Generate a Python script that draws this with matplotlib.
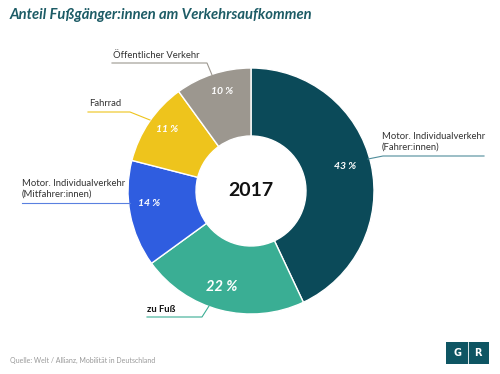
import matplotlib
matplotlib.use("Agg")
import matplotlib.pyplot as plt
from matplotlib.patches import Rectangle

# ---------------------------------------------------------------------------
# Data
# ---------------------------------------------------------------------------
categories = ["Motor. Individualverkehr\n(Fahrer:innen)", "zu Fuß",
              "Motor. Individualverkehr\n(Mitfahrer:innen)", "Fahrrad",
              "Öffentlicher Verkehr"]
shares = [43, 22, 14, 11, 10]
pct_labels = ["43 %", "22 %", "14 %", "11 %", "10 %"]
colors = ["#0b4a59", "#3aae94", "#2f5de0", "#eec41c", "#9c978f"]
line_colors = ["#4f8d9b", "#3aae94", "#5a80e0", "#eec41c", "#9c978f"]
year = "2017"

W, H = 500, 374


def Y(y):
    # pixel-from-top -> data y
    return H - y


fig = plt.figure(figsize=(5.0, 3.74), dpi=100)
ax = fig.add_axes([0, 0, 1, 1])

cx, cy, R, r_in = 251, 191, 123, 55
wedges, _ = ax.pie(shares, colors=colors, startangle=90, counterclock=False,
                   center=(cx, Y(cy)), radius=R, frame=True,
                   wedgeprops=dict(width=R - r_in, edgecolor="white", linewidth=1.0))

ax.set_xlim(0, W)
ax.set_ylim(0, H)
ax.set_aspect("equal")
ax.set_axis_off()

# ── Percent labels ──
pct_pos = [(345, 166), (222, 287), (149, 203), (167, 129), (222, 91)]
pct_size = [7.5, 10.5, 7.5, 7.5, 7.5]
for (px, py), lab, fs in zip(pct_pos, pct_labels, pct_size):
    ax.text(px, Y(py), lab, color="white", fontsize=fs, fontweight="bold",
            fontstyle="italic", family="Lato", ha="center", va="center")

ax.text(cx, Y(190), year, fontsize=14, fontweight="bold", family="Lato",
        ha="center", va="center", color="#111111")

# ── Leader lines & category labels ──
lab_kw = dict(fontsize=6.8, family="Lato", color="#333333")
# Fahrer:innen
ax.plot([368, 383, 484], [Y(159), Y(156), Y(156)], color=line_colors[0], lw=0.8)
ax.text(382, Y(152), categories[0], ha="left", va="bottom", linespacing=1.35, **lab_kw)
# zu Fuß
ax.plot([147, 202, 209], [Y(317), Y(317), Y(306)], color=line_colors[1], lw=0.8)
ax.text(147, Y(314), categories[1], ha="left", va="bottom", fontweight="bold",
        fontsize=6.8, family="Lato", color="#111111")
# Mitfahrer:innen
ax.plot([22, 130], [Y(203), Y(203)], color=line_colors[2], lw=0.8)
ax.text(22, Y(199), categories[2], ha="left", va="bottom", linespacing=1.35, **lab_kw)
# Fahrrad
ax.plot([88, 130, 150], [Y(112), Y(112), Y(120)], color=line_colors[3], lw=0.8)
ax.text(89, Y(108), categories[3], ha="left", va="bottom", **lab_kw)
# Öffentlicher Verkehr
ax.plot([112, 207, 212], [Y(63), Y(63), Y(75)], color=line_colors[4], lw=0.8)
ax.text(113, Y(60), categories[4], ha="left", va="bottom", **lab_kw)

# ── Title ──
ax.text(10, Y(15), "Anteil Fußgänger:innen am Verkehrsaufkommen", fontsize=10.6,
        fontweight="bold", fontstyle="italic", family="Lato", color="#1d5c66",
        ha="left", va="center")

# ── Source ──
ax.text(10, Y(360), "Quelle: Welt / Allianz, Mobilität in Deutschland", fontsize=5,
        family="Lato", color="#999999", ha="left", va="center")

# ── GR logo ──
ax.add_patch(Rectangle((446, Y(364)), 43, 22, facecolor="#0e5563", edgecolor="none"))
ax.plot([467.5, 467.5], [Y(364), Y(342)], color="white", lw=0.6)
ax.text(457, Y(353), "G", color="white", fontsize=7, fontweight="bold",
        family="DejaVu Sans", ha="center", va="center")
ax.text(478, Y(353), "R", color="white", fontsize=7, fontweight="bold",
        family="DejaVu Sans", ha="center", va="center")

fig.savefig("out.png", dpi=100, facecolor="white")
plt.close(fig)
